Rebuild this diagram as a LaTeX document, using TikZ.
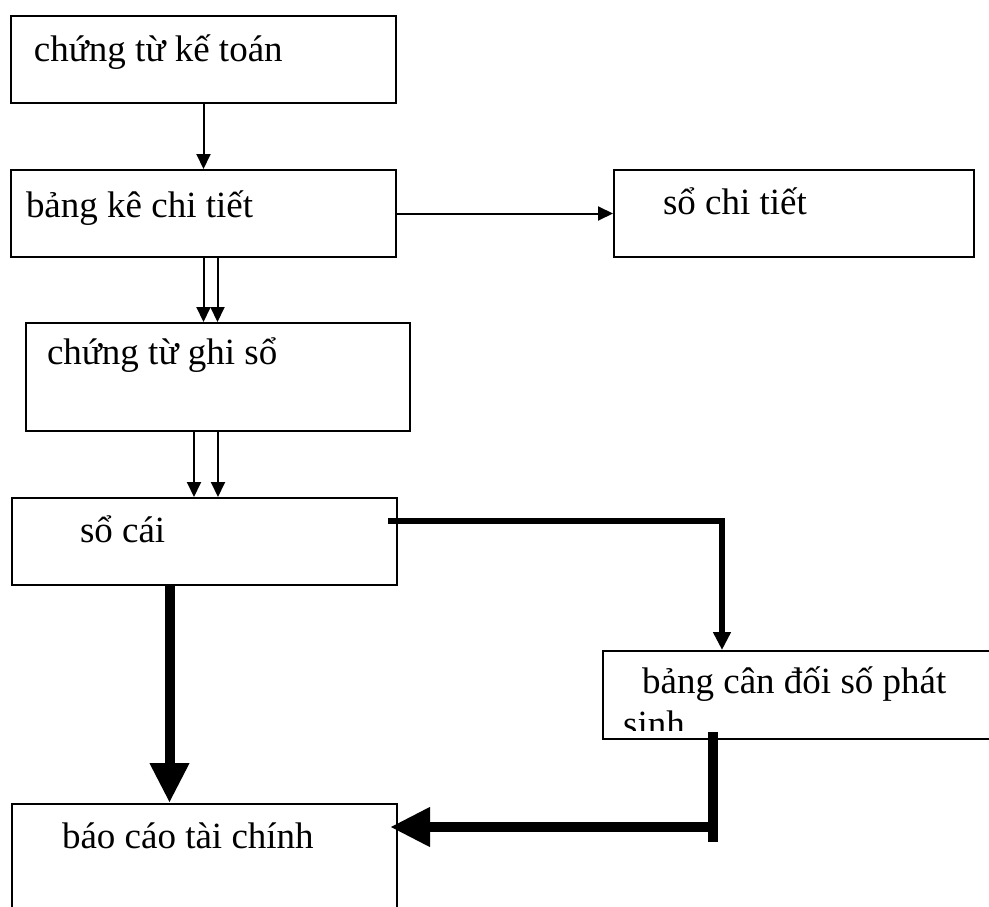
\documentclass[tikz,border=0pt]{standalone}
\usepackage{fontspec}
\setmainfont{Liberation Serif}
\usetikzlibrary{arrows.meta,positioning}
\newcommand{\stagefont}{\fontsize{37}{43}\selectfont}

\begin{document}
\begin{tikzpicture}[x=1pt, y=-1pt,
    stage/.style n args={4}{draw, line width=2pt, anchor=north west, align=flush left, font=\stagefont,
        inner ysep=0pt, inner xsep=#2, text width=#1, text height=#3, text depth=#4},
    flow/.style={line width=2pt, -{Triangle[length=15pt,width=14pt]}},
    midflow/.style={line width=6pt, -{Triangle[length=18pt,width=17pt]}},
    heavyflow/.style={line width=10pt, -{Triangle[length=40pt,width=37pt]}}]
    \clip (0,0) rectangle (989,907);

    \node (ctkt) [stage={339pt}{23pt}{46pt}{41pt}] at (10,15) {chứng từ kế toán};
    \node (bkct) [stage={355pt}{15pt}{47pt}{40pt}] at (10,169) {bảng kê chi tiết};
    \node (sct) [stage={262pt}{49pt}{44pt}{43pt}, right=216pt of bkct] {sổ chi tiết};
    \node (ctgs) [stage={342pt}{21pt}{41pt}{67pt}] at (25,322) {chứng từ ghi sổ};
    \node (socai) [stage={249pt}{68pt}{44pt}{43pt}] at (11,497) {sổ cái};
    \node (bcd) [stage={378pt}{21pt}{43pt}{45pt}] at (602,650) {};
    \node (bctc) [stage={285pt}{50pt}{44pt}{106pt}] at (11,803) {báo cáo tài chính};

    % text of the ledger balance box is cut off by the box
    \begin{scope}
        \clip (bcd.north west) rectangle ([yshift=10pt]bcd.south east);
        \node (bcdtext) [font=\stagefont, inner sep=0pt, text width=378pt, align=flush left, anchor=base west]
            at ([shift={(21pt,-43pt)}]bcd.north west) {\hspace*{19pt}bảng cân đối số phát\\sinh};
    \end{scope}

    \draw [flow] (ctkt) -- (bkct);
    \draw [flow] (bkct) -- (sct);
    \draw [flow] (bkct.south) -- (bkct.south |- ctgs.north);
    \draw [flow] ([xshift=14pt]bkct.south) -- ([xshift=14pt]bkct.south |- ctgs.north);
    \draw [flow] ([xshift=-24pt]ctgs.south) -- ([xshift=-24pt]ctgs.south |- socai.north);
    \draw [flow] (ctgs.south) -- (ctgs.south |- socai.north);

    \draw [midflow] ([shift={(-10pt,21pt)}]socai.east) -| ([xshift=120pt]bcd.north west);
    \draw [heavyflow] ([xshift=-35pt]socai.south) -- ([xshift=-35pt]socai.south |- bctc.north);

    \coordinate (knee) at ([shift={(111pt,-87pt)}]bcd.south west);
    \draw [line width=10pt] ([yshift=8pt]bcd.south west -| knee) -- ([yshift=-15pt]knee);
    \draw [heavyflow] (knee) -- ([xshift=-8pt]knee -| bctc.east);
\end{tikzpicture}
\end{document}
